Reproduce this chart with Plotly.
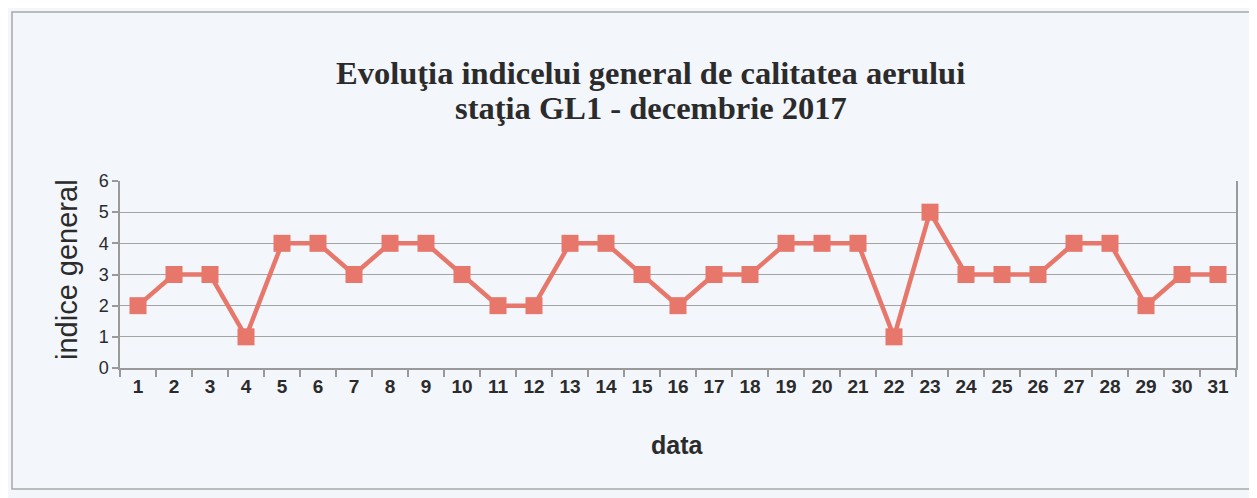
import plotly.graph_objects as go

days = [str(i) for i in range(1, 32)]
values = [2, 3, 3, 1, 4, 4, 3, 4, 4, 3, 2, 2, 4, 4, 3, 2, 3, 3, 4, 4, 4, 1, 5, 3, 3, 3, 4, 4, 2, 3, 3]
y_ticks = [0, 1, 2, 3, 4, 5, 6]

title_line1 = "Evoluţia indicelui general de calitatea aerului"
title_line2 = "staţia GL1 - decembrie 2017"
x_title = "data"
y_title = "indice general"

bg = "#f3f6fb"
line_col = "#e8776b"
axis_col = "#9a9a9a"
text_col = "#2b2b2b"

# plot area in screen px (page has 8px body margin)
L, R, T, B = 120, 1236, 181, 368
W, H = R - L, B - T


def px(X):
    return (X - L) / W


def py(Y):
    return (B - Y) / H


fig = go.Figure()
fig.add_trace(go.Scatter(
    x=days, y=values, mode="lines+markers",
    line=dict(color=line_col, width=4.5),
    marker=dict(symbol="square", size=17, color=line_col),
    showlegend=False, cliponaxis=False,
))

fig.update_layout(
    width=1249, height=490,
    paper_bgcolor=bg, plot_bgcolor=bg,
    margin=dict(l=L - 8, r=1257 - R, t=T - 8, b=498 - B),
    xaxis=dict(
        type="category", range=[-0.5, 30.5], tickson="boundaries", ticks="outside", ticklen=7,
        tickcolor=axis_col, tickwidth=1.5, showline=True, linecolor=axis_col, linewidth=1.5,
        showgrid=False,
        tickfont=dict(family="Liberation Sans", size=19, color=text_col),
        tickprefix="<b>", ticksuffix="</b>",
    ),
    yaxis=dict(
        range=[0, 6], tickvals=y_ticks, ticks="outside", ticklen=6, tickcolor=axis_col, tickwidth=1.5,
        showline=True, linecolor=axis_col, linewidth=1.5, mirror=True,
        showgrid=True, gridcolor="#a4a4a4", gridwidth=1.3, zeroline=False,
        tickfont=dict(family="Liberation Sans", size=18, color=text_col),
        tickprefix="<b>", ticksuffix="</b>",
    ),
    annotations=[
        dict(text="<b>" + title_line1 + "</b>", xref="paper", yref="paper", x=px(650), y=py(73),
             xanchor="center", yanchor="middle", showarrow=False,
             font=dict(family="Liberation Serif", size=32.5, color=text_col)),
        dict(text="<b>" + title_line2 + "</b>", xref="paper", yref="paper", x=px(651), y=py(108),
             xanchor="center", yanchor="middle", showarrow=False,
             font=dict(family="Liberation Serif", size=32.5, color=text_col)),
        dict(text="<b>" + x_title + "</b>", xref="paper", yref="paper", x=px(677), y=py(445),
             xanchor="center", yanchor="middle", showarrow=False,
             font=dict(family="Liberation Sans", size=25, color=text_col)),
        dict(text=y_title, xref="paper", yref="paper", x=px(67), y=py(270), textangle=-90,
             xanchor="center", yanchor="middle", showarrow=False,
             font=dict(family="Liberation Sans", size=29, color=text_col)),
    ],
    shapes=[dict(type="rect", xref="paper", yref="paper", x0=px(12), x1=px(1252), y0=py(489), y1=py(12),
                 line=dict(color="#a8a8a8", width=1.5), fillcolor="rgba(0,0,0,0)", layer="below")],
)

fig.write_html("out.html")
